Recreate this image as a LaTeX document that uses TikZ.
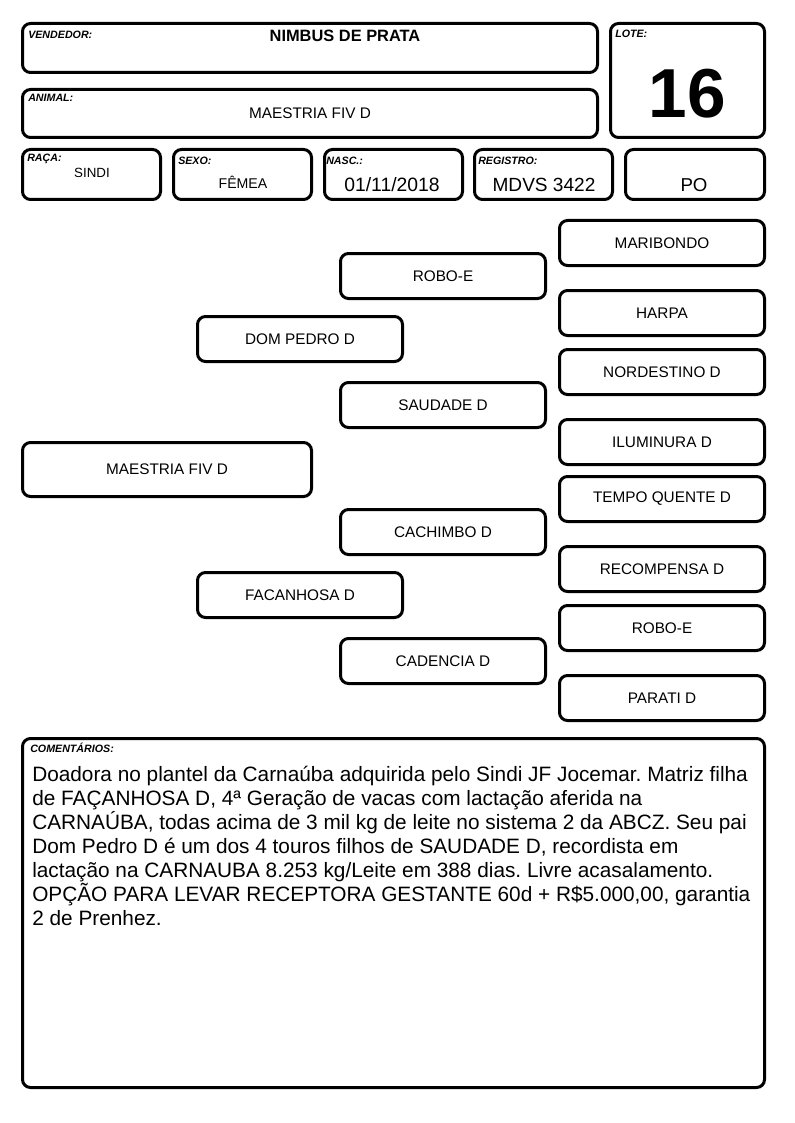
\documentclass[tikz,border=0pt]{standalone}
\usepackage{fontspec}
\setmainfont{Liberation Sans}
\frenchspacing
\begin{document}
\begin{tikzpicture}[x=0.75pt,y=-0.75pt,
  box/.style={draw, line width=2.25pt, rounded corners=6pt, inner sep=0pt},
  sz/.style 2 args={minimum width=#1*0.75pt, minimum height=#2*0.75pt},
  pbox/.style={box, sz={205}{45}, font=\fontsize{11.5}{13}\selectfont},
  lbl/.style={font=\fontsize{8}{9}\selectfont\bfseries\itshape, anchor=base west, inner sep=0pt},
  val/.style={anchor=base, inner sep=0pt}]
\useasboundingbox (0,0) rectangle (794,1123);
% header boxes
\node[box, sz={575}{49}] (bvend) at (310,48) {};
\node[box, sz={154}{114}] (blote) at (687.5,80.5) {};
\node[box, sz={575}{48}] (banim) at (310,113.5) {};
\node[box, sz={138}{50}] (braca) at (91.5,174.5) {};
\node[box, sz={138}{50}] (bsexo) at (242.5,174.5) {};
\node[box, sz={138}{50}] (bnasc) at (393.5,174.5) {};
\node[box, sz={138}{50}] (breg) at (543.5,174.5) {};
\node[box, sz={139}{50}] (bpo) at (695,174.5) {};
% labels
\node[lbl] (lvend) at (28,39) {VENDEDOR:};
\node[lbl] (llote) at (615,38) {LOTE:};
\node[lbl] (lanim) at (28,102) {ANIMAL:};
\node[lbl] (lraca) at (27,162) {RAÇA:};
\node[lbl] (lsexo) at (178,165) {SEXO:};
\node[lbl] (lnasc) at (326,165) {NASC.:};
\node[lbl] (lreg) at (478,165) {REGISTRO:};
% values
\node[val, font=\fontsize{12.3}{14}\selectfont\bfseries] (vend) at (345,42) {NIMBUS DE PRATA};
\node[val, font=\fontsize{11.5}{13}\selectfont] (anim) at (310,119) {MAESTRIA FIV D};
\node[val, font=\fontsize{10}{12}\selectfont] (raca) at (92,178) {SINDI};
\node[val, font=\fontsize{10.6}{12}\selectfont] (sexo) at (243,189) {FÊMEA};
\node[val, font=\fontsize{14.5}{16}\selectfont] (nasc) at (392,192) {01/11/2018};
\node[val, font=\fontsize{14.3}{16}\selectfont] (reg) at (544,192) {MDVS 3422};
\node[val, font=\fontsize{14}{16}\selectfont] (po) at (694,192) {PO};
\node[val, font=\fontsize{52}{56}\selectfont\bfseries] (lote) at (687.5,118) {16};
% pedigree
\node[pbox] (maribondo) at (662,243) {MARIBONDO};
\node[pbox] (roboe1) at (443,276) {ROBO-E};
\node[pbox] (harpa) at (662,313) {HARPA};
\node[pbox] (dompedro) at (300,339) {DOM PEDRO D};
\node[pbox] (nordestino) at (662,372) {NORDESTINO D};
\node[pbox] (saudade) at (443,405) {SAUDADE D};
\node[pbox] (iluminura) at (662,442) {ILUMINURA D};
\node[box, sz={289}{54}, font=\fontsize{11.5}{13}\selectfont] (maestria) at (167,469.5) {MAESTRIA FIV D};
\node[pbox] (tempo) at (662,499) {TEMPO QUENTE D};
\node[pbox] (cachimbo) at (443,532) {CACHIMBO D};
\node[pbox] (recompensa) at (662,569) {RECOMPENSA D};
\node[pbox] (facanhosa) at (300,595) {FACANHOSA D};
\node[pbox] (roboe2) at (662,628) {ROBO-E};
\node[pbox] (cadencia) at (443,661) {CADENCIA D};
\node[pbox] (parati) at (662,698) {PARATI D};
% comments
\node[box, sz={742}{349}] (bcom) at (393.5,913) {};
\node[lbl] (lcom) at (30,752) {COMENTÁRIOS:};
\node[anchor=base west, align=left, inner sep=0pt, font=\fontsize{15.6}{18}\selectfont] (com) at (32,925) {Doadora no plantel da Carnaúba adquirida pelo Sindi JF Jocemar. Matriz filha\\
de FAÇANHOSA D, 4ª Geração de vacas com lactação aferida na\\
CARNAÚBA, todas acima de 3 mil kg de leite no sistema 2 da ABCZ. Seu pai\\
Dom Pedro D é um dos 4 touros filhos de SAUDADE D, recordista em\\
lactação na CARNAUBA 8.253 kg/Leite em 388 dias. Livre acasalamento.\\
OPÇÃO PARA LEVAR RECEPTORA GESTANTE 60d + R\$5.000,00, garantia\\
2 de Prenhez.};
\end{tikzpicture}
\end{document}
